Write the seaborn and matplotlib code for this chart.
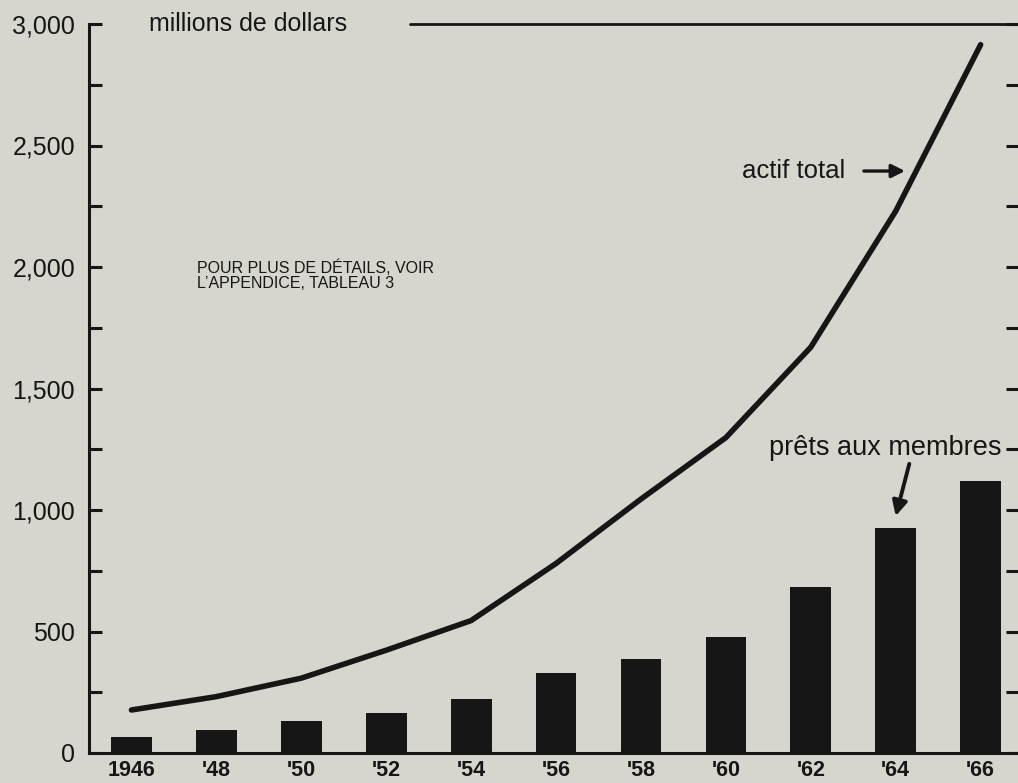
import matplotlib
matplotlib.use("Agg")
import matplotlib.pyplot as plt
import seaborn as sns
import pandas as pd
from matplotlib.ticker import MultipleLocator, FixedLocator

years = [1946, 1948, 1950, 1952, 1954, 1956, 1958, 1960, 1962, 1964, 1966]
loans = [65, 95, 130, 165, 222, 330, 388, 476, 682, 924, 1120]        # prêts aux membres
assets = [177, 232, 308, 423, 545, 780, 1045, 1298, 1670, 2230, 2915]  # actif total
xlabels = ["1946", "'48", "'50", "'52", "'54", "'56", "'58", "'60", "'62", "'64", "'66"]
ylabels = ["0", "500", "1,000", "1,500", "2,000", "2,500", "3,000"]

df = pd.DataFrame({"annee": years, "prets": loans, "actif": assets})

BG = "#d6d6cf"
INK = "#161616"

sns.set_theme(style="white")
plt.rcParams["font.family"] = ["Liberation Sans", "DejaVu Sans"]

fig = plt.figure(figsize=(10.18, 7.83), dpi=100, facecolor=BG)
ax = fig.add_axes([89 / 1018, 30 / 783, (1018 - 89) / 1018, (753 - 24) / 783])
ax.set_facecolor(BG)

sns.barplot(data=df, x="annee", y="prets", native_scale=True, width=0.48,
            color=INK, saturation=1, edgecolor=INK, linewidth=0, ax=ax, zorder=2)
sns.lineplot(data=df, x="annee", y="actif", color=INK, linewidth=4.0, ax=ax,
             solid_capstyle="round", zorder=3)

ax.set_xlim(1945.0, 1966.88)
ax.set_ylim(0, 3000)
ax.set_xlabel("")
ax.set_ylabel("")

for s in ["top", "right"]:
    ax.spines[s].set_visible(False)
for s in ["left", "bottom"]:
    ax.spines[s].set_color(INK)
    ax.spines[s].set_linewidth(2.2)

ax.set_xticks(years)
ax.set_xticklabels(xlabels, fontsize=15.5, fontweight="bold", color=INK)
ax.tick_params(axis="x", length=0, pad=5)

ax.yaxis.set_major_locator(FixedLocator([0, 500, 1000, 1500, 2000, 2500, 3000]))
ax.set_yticklabels(ylabels, fontsize=18, color=INK)
ax.yaxis.set_minor_locator(MultipleLocator(250))
ax.tick_params(axis="y", which="both", direction="in", length=9, width=2.2,
               color=INK, left=True, right=True, pad=10)

# top rule at the 3,000 level
ax.axhline(3000, xmin=(410 - 89) / (1018 - 89), xmax=1, color=INK, lw=2, clip_on=False)

ax.text(1946.42, 3000, "millions de dollars", fontsize=18, color=INK,
        va="center", ha="left")
ax.text(1947.55, 1965, "POUR PLUS DE DÉTAILS, VOIR\nL\u2019APPENDICE, TABLEAU 3",
        fontsize=11.5, color=INK, va="center", ha="left", linespacing=1.0)

ax.text(1962.8, 2395, "actif total", fontsize=18.5, color=INK, va="center", ha="right")
ax.annotate("", xy=(1964.22, 2395), xytext=(1963.25, 2395),
            arrowprops=dict(arrowstyle="-|>", color=INK, lw=2.4, mutation_scale=20,
                            shrinkA=0, shrinkB=0))
ax.text(1966.5, 1255, "prêts aux membres", fontsize=19.5, color=INK,
        va="center", ha="right")
ax.annotate("", xy=(1964.0, 975), xytext=(1964.32, 1190),
            arrowprops=dict(arrowstyle="-|>", color=INK, lw=2.8, mutation_scale=22,
                            shrinkA=0, shrinkB=0))

fig.savefig("out.png", dpi=100, facecolor=BG)
